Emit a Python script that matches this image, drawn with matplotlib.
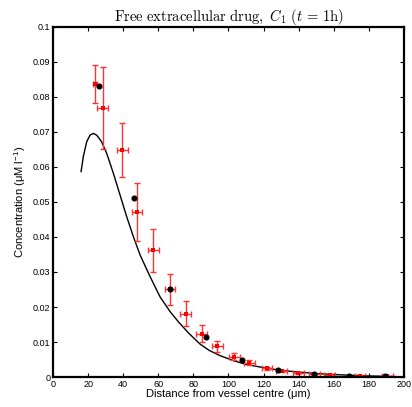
import numpy as np
import matplotlib
matplotlib.use('Agg')
import matplotlib.pyplot as plt

plt.rcParams['font.family'] = ['Liberation Sans', 'DejaVu Sans']
plt.rcParams['mathtext.fontset'] = 'cm'

# Experimental data (red, with error bars)
exp_x = [23.9, 28.3, 39.5, 47.9, 57.2, 66.7, 75.6, 84.7, 93.6, 103.3,
         111.9, 121.9, 130.3, 139.8, 148.9, 157.6, 175.0, 190.5]
exp_y = [0.0837, 0.0769, 0.0648, 0.0472, 0.0362, 0.0250, 0.0181, 0.0124, 0.0088, 0.0058,
         0.0041, 0.0025, 0.0017, 0.0012, 0.0009, 0.0006, 0.0003, 0.0002]
exp_yerr = [0.0055, 0.0117, 0.0077, 0.0083, 0.0061, 0.0044, 0.0035, 0.0025, 0.0016, 0.0010,
            0.0007, 0.0005, 0.0004, 0.0003, 0.0003, 0.0002, 0.0002, 0.0002]
exp_xerr = [1.0, 3.0, 3.0, 3.0, 3.0, 3.0, 3.0, 3.0, 3.0, 3.0,
            3.0, 3.0, 3.0, 3.0, 3.0, 3.0, 3.0, 3.0]

# Simulated points (black dots)
sim_x = [26.2, 46.2, 66.7, 87.2, 107.5, 128.0, 148.7, 168.8, 189.2]
sim_y = [0.0831, 0.0512, 0.0251, 0.0113, 0.0049, 0.0021, 0.0010, 0.0004, 0.0002]

# Model curve (black line)
curve_x = [16.0, 17.3, 19.2, 21.1, 23.0, 24.9, 27.7, 30.6, 34.4, 38.2, 42.0, 45.8,
           49.6, 55.3, 61.0, 66.7, 71.4, 77.0, 83.8, 89.0, 95.2, 102.7, 110.0,
           121.8, 130.0, 140.0, 150.0, 160.0, 170.0, 180.0, 190.0, 196.0]
curve_y = [0.0587, 0.0630, 0.0672, 0.0691, 0.0696, 0.0691, 0.0672, 0.0639, 0.0582,
           0.0520, 0.0458, 0.0401, 0.0349, 0.0287, 0.0229, 0.0187, 0.0158, 0.0127,
           0.0094, 0.0076, 0.0061, 0.0047, 0.0036, 0.0025, 0.0019, 0.0014, 0.0010,
           0.0007, 0.0005, 0.0003, 0.0002, 0.0001]

fig = plt.figure(figsize=(4.12, 4.07), dpi=100)
ax = fig.add_axes([0.1286, 0.0737, 0.852, 0.86])

ax.plot(curve_x, curve_y, color='black', lw=1.0)
ax.errorbar(exp_x, exp_y, yerr=exp_yerr, xerr=exp_xerr, fmt='none',
            ecolor='#ff3333', elinewidth=1.0, capsize=2.0, capthick=1.0)
ax.plot(exp_x, exp_y, 's', color='red', markersize=2.4, markeredgewidth=0)
ax.plot(sim_x, sim_y, 'o', color='black', markersize=4.4, markeredgewidth=0)

ax.set_xlim(0, 200)
ax.set_ylim(0, 0.1)
ax.set_xticks(np.arange(0, 201, 20))
ax.set_yticks(np.arange(0, 0.101, 0.01))
ax.set_yticklabels(['0', '0.01', '0.02', '0.03', '0.04', '0.05', '0.06',
                    '0.07', '0.08', '0.09', '0.1'])
ax.tick_params(direction='in', top=True, right=True, length=3, width=0.8,
               labelsize=6.5, pad=2)
for s in ax.spines.values():
    s.set_linewidth(1.6)

ax.set_xlabel('Distance from vessel centre (\u03bcm)', fontsize=8, labelpad=0)
ax.set_ylabel('Concentration (\u03bcM l$^{\\mathregular{-1}}$)', fontsize=8, labelpad=3)
ax.set_title(r'$\mathrm{Free\ extracellular\ drug,}\ C_1\ (t\,=\,1\mathrm{h})$',
             fontsize=10.5, pad=4)

fig.savefig('out.png', dpi=100)
